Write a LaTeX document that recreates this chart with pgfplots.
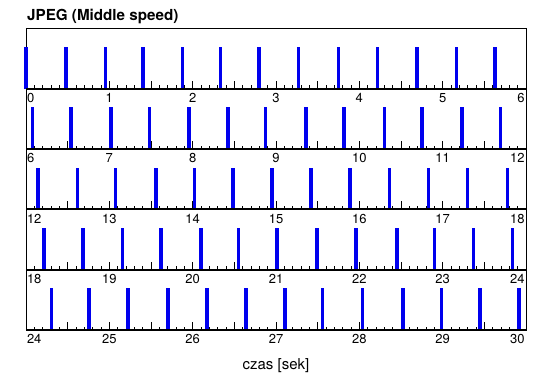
\documentclass[border=0pt]{standalone}
\usepackage{fontspec}
\setmainfont{TeX Gyre Heros}
\usepackage{pgfplots}
\pgfplotsset{compat=1.18}
\definecolor{rootblue}{RGB}{0,0,238}
\pgfplotsset{
  panel/.style={
    scale only axis, width=500bp, height=60.3bp, anchor=south west,
    ymin=0, ymax=1, ytick=\empty, clip=false,
    axis line style={black, line width=0.8bp},
    tick align=inside, xtick pos=left,
    major tick length=8bp, minor tick length=3.3bp, minor x tick num=9,
    every tick/.append style={black, line width=0.6bp},
    extra x tick labels={},
    extra x tick style={grid=none, major tick length=8bp},
    xticklabel style={font=\fontsize{13bp}{13bp}\selectfont, yshift=-1bp},
    extra description/.code={\draw[black, line width=1.8bp] (0,0) -- (1,0);},
  },
  bars/.style={ycomb, rootblue, line width=3.6bp, no markers},
}
\begin{document}
\begin{tikzpicture}
\path[use as bounding box] (0,0) rectangle (550bp,389bp);
% panel 1
\begin{axis}[panel, at={(26bp,300.2bp)}, xmin=0, xmax=6,
  xtick={0,1,2,3,4,5,6},
  xticklabels={\rlap{\hspace{1bp}0},1,2,3,4,5,\llap{6\hspace{1.5bp}}},
  extra x ticks={0.5,1.5,2.5,3.5,4.5,5.5},
  title={JPEG (Middle speed)},
  title style={at={(0,1)}, anchor=base west, inner sep=0pt, xshift=1bp, yshift=2bp,
    font=\bfseries\fontsize{15.2bp}{15.2bp}\selectfont}]
\addplot[bars] coordinates {(0,0.69) (0.478,0.69) (0.952,0.69) (1.401,0.69) (1.876,0.69) (2.334,0.69) (2.799,0.69) (3.269,0.69) (3.751,0.69) (4.220,0.69) (4.695,0.69) (5.165,0.69) (5.627,0.69)};
\end{axis}
% panel 2
\begin{axis}[panel, at={(26bp,239.9bp)}, xmin=6, xmax=12,
  xtick={6,7,8,9,10,11,12},
  xticklabels={\rlap{\hspace{1bp}6},7,8,9,10,11,\llap{12\hspace{1.5bp}}},
  extra x ticks={6.5,7.5,8.5,9.5,10.5,11.5}]
\addplot[bars] coordinates {(6.076,0.69) (6.538,0.69) (7.020,0.69) (7.482,0.69) (7.955,0.69) (8.425,0.69) (8.876,0.69) (9.361,0.69) (9.819,0.69) (10.300,0.69) (10.755,0.69) (11.229,0.69) (11.695,0.69)};
\end{axis}
% panel 3
\begin{axis}[panel, at={(26bp,179.6bp)}, xmin=12, xmax=18,
  xtick={12,13,14,15,16,17,18},
  xticklabels={\rlap{\hspace{1bp}12},13,14,15,16,17,\llap{18\hspace{1.5bp}}},
  extra x ticks={12.5,13.5,14.5,15.5,16.5,17.5}]
\addplot[bars] coordinates {(12.145,0.69) (12.618,0.69) (13.072,0.69) (13.562,0.69) (14.024,0.69) (14.486,0.69) (14.955,0.69) (15.420,0.69) (15.890,0.69) (16.360,0.69) (16.830,0.69) (17.300,0.69) (17.780,0.69)};
\end{axis}
% panel 4
\begin{axis}[panel, at={(26bp,119.3bp)}, xmin=18, xmax=24,
  xtick={18,19,20,21,22,23,24},
  xticklabels={\rlap{\hspace{1bp}18},19,20,21,22,23,\llap{24\hspace{1.5bp}}},
  extra x ticks={18.5,19.5,20.5,21.5,22.5,23.5}]
\addplot[bars] coordinates {(18.217,0.69) (18.687,0.69) (19.160,0.69) (19.620,0.69) (20.100,0.69) (20.550,0.69) (21.010,0.69) (21.490,0.69) (21.960,0.69) (22.450,0.69) (22.900,0.69) (23.370,0.69) (23.840,0.69)};
\end{axis}
% panel 5
\begin{axis}[panel, at={(26bp,59bp)}, xmin=24, xmax=30,
  xtick={24,25,26,27,28,29,30},
  xticklabels={\rlap{\hspace{1bp}24},25,26,27,28,29,\llap{30\hspace{1.5bp}}},
  extra x ticks={24.5,25.5,26.5,27.5,28.5,29.5},
  xlabel={czas [sek]},
  xlabel style={at={(0.5,0)}, anchor=base, inner sep=0pt, yshift=-39.5bp,
    font=\fontsize{15bp}{15bp}\selectfont}]
\addplot[bars] coordinates {(24.305,0.69) (24.759,0.69) (25.221,0.69) (25.703,0.69) (26.172,0.69) (26.639,0.69) (27.108,0.69) (27.558,0.69) (28.040,0.69) (28.522,0.69) (28.984,0.69) (29.449,0.69) (29.919,0.69)};
\end{axis}
\end{tikzpicture}
\end{document}
